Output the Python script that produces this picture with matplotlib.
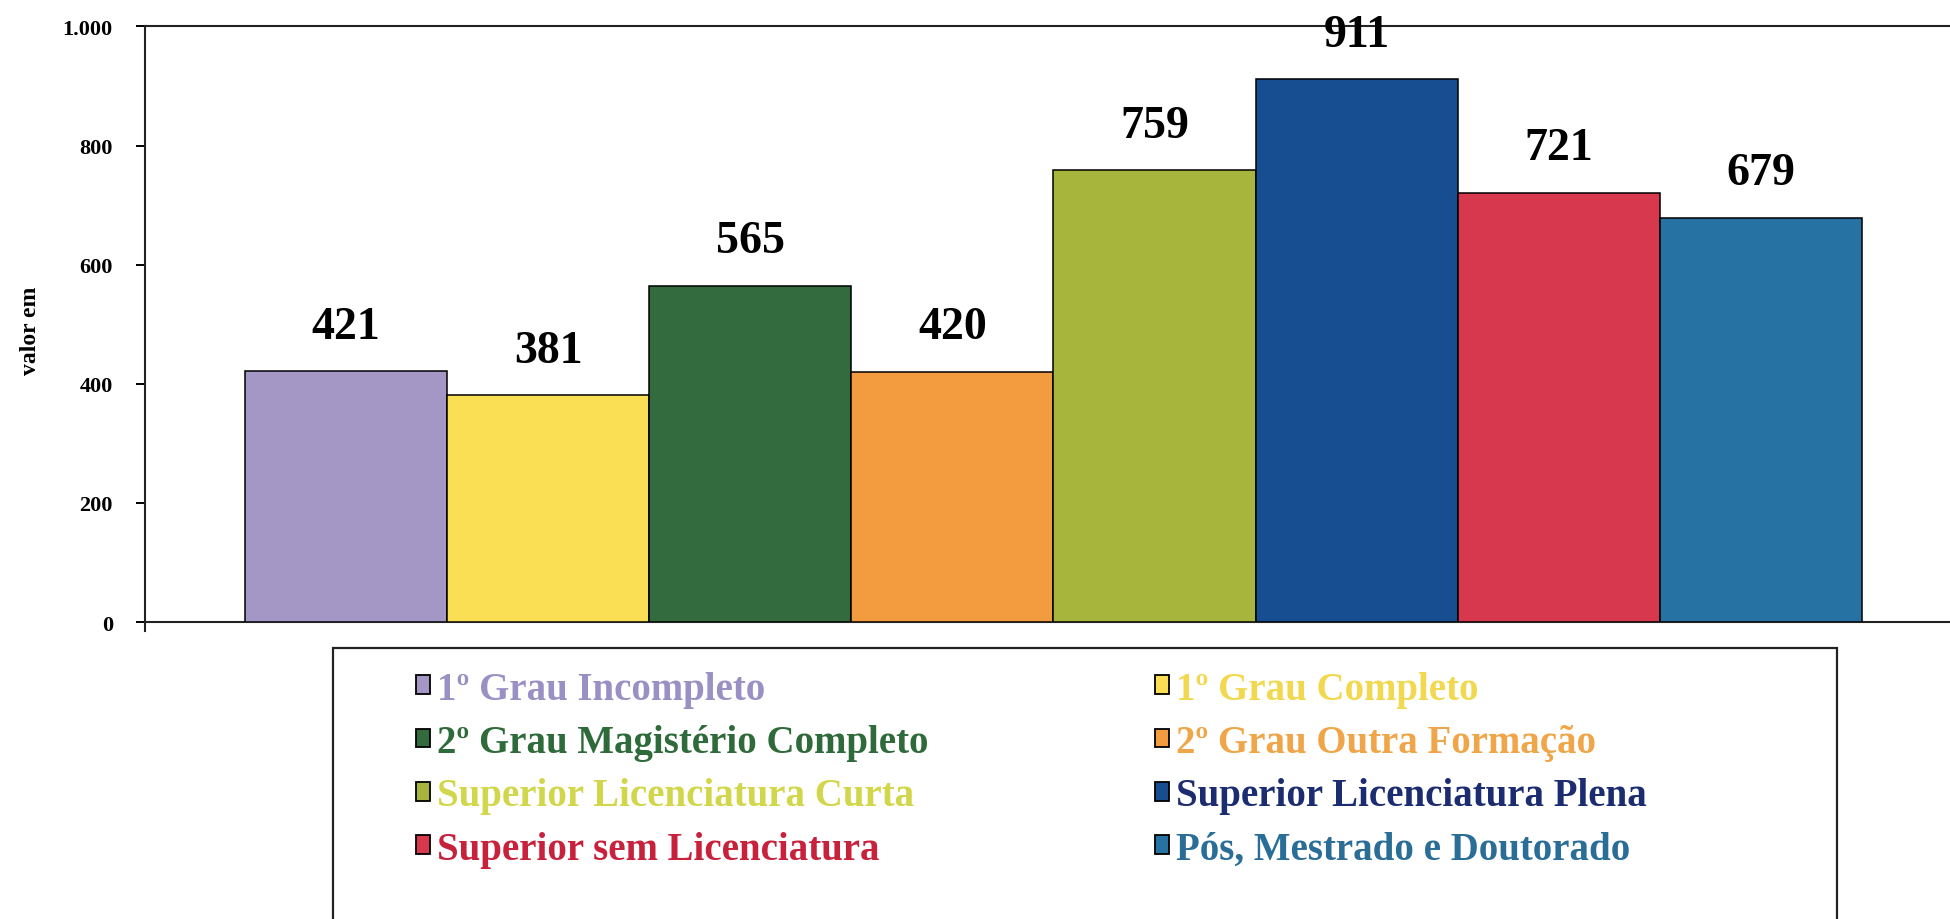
import matplotlib
matplotlib.use("Agg")
import matplotlib.pyplot as plt
from matplotlib.patches import Patch, Rectangle

# ---- data ----
categories = [
    "1º Grau Incompleto",
    "1º Grau Completo",
    "2º Grau Magistério Completo",
    "2º Grau Outra Formação",
    "Superior Licenciatura Curta",
    "Superior Licenciatura Plena",
    "Superior sem Licenciatura",
    "Pós, Mestrado e Doutorado",
]
values = [421, 381, 565, 420, 759, 911, 721, 679]
bar_colors = ["#A597C5", "#FADF55", "#336B3E", "#F39C3F",
              "#A8B53D", "#174E92", "#D8384E", "#2672A2"]
text_colors = ["#9A90C4", "#F2D84E", "#2F6A3A", "#EFA548",
               "#D2D64A", "#1B2C70", "#C8213C", "#2A6E98"]
yticks = [0, 200, 400, 600, 800, 1000]
ytick_labels = ["0", "200", "400", "600", "800", "1.000"]
ylabel = "valor em"

SERIF = ["Liberation Serif", "DejaVu Serif"]
plt.rcParams["font.family"] = SERIF

fig = plt.figure(figsize=(19.5, 9.2), dpi=100)
ax = fig.add_axes([0.0746, 0.3228, 0.9254, 0.6474])

x = list(range(len(values)))
bars = ax.bar(x, values, width=1.0, color=bar_colors,
              edgecolor="black", linewidth=1.1, zorder=3)

for xi, v in zip(x, values):
    ax.annotate(str(v), (xi, v), xytext=(0, 32), textcoords="offset points",
                ha="center", va="center", fontsize=33, fontweight="bold",
                color="black")

ax.set_xlim(-0.992, 7.935)
ax.set_ylim(0, 1000)
ax.set_xticks([])
ax.set_yticks(yticks)
ax.set_yticklabels(ytick_labels, fontsize=16, fontweight="bold")
ax.tick_params(axis="y", direction="out", length=6.5, width=1.4, pad=17,
               colors="black")
for s in ["left", "bottom", "top"]:
    ax.spines[s].set_linewidth(1.5)
    ax.spines[s].set_color("#222222")
ax.spines["right"].set_visible(False)
ax.spines["left"].set_bounds(-15, 1000)
ax.spines["left"].set_clip_on(False)

ax.set_ylabel(ylabel, fontsize=17, fontweight="bold")
ax.yaxis.set_label_coords(-0.058, 0.49)

# ---- legend ----
handles = [Patch(facecolor=c, edgecolor="black", linewidth=1.3) for c in bar_colors]
left_idx = [0, 2, 4, 6]
right_idx = [1, 3, 5, 7]
common = dict(loc="upper left", frameon=False, borderpad=0, fontsize=28,
              handlelength=0.36, handleheight=0.36, handletextpad=0.18,
              labelspacing=0.42, borderaxespad=0)
leg1 = fig.legend([handles[i] for i in left_idx], [categories[i] for i in left_idx],
                  bbox_to_anchor=(0.2133, 0.270), **common)
leg2 = fig.legend([handles[i] for i in right_idx], [categories[i] for i in right_idx],
                  bbox_to_anchor=(0.5923, 0.270), **common)
for leg, idx in ((leg1, left_idx), (leg2, right_idx)):
    for t, i in zip(leg.get_texts(), idx):
        t.set_color(text_colors[i])
        t.set_fontweight("bold")

frame = Rectangle((0.1708, -0.05), 0.942 - 0.1708, 0.2946 + 0.05,
                  transform=fig.transFigure, fill=False, edgecolor="#222222",
                  linewidth=1.6)
fig.add_artist(frame)

fig.savefig("out.png", dpi=100)
